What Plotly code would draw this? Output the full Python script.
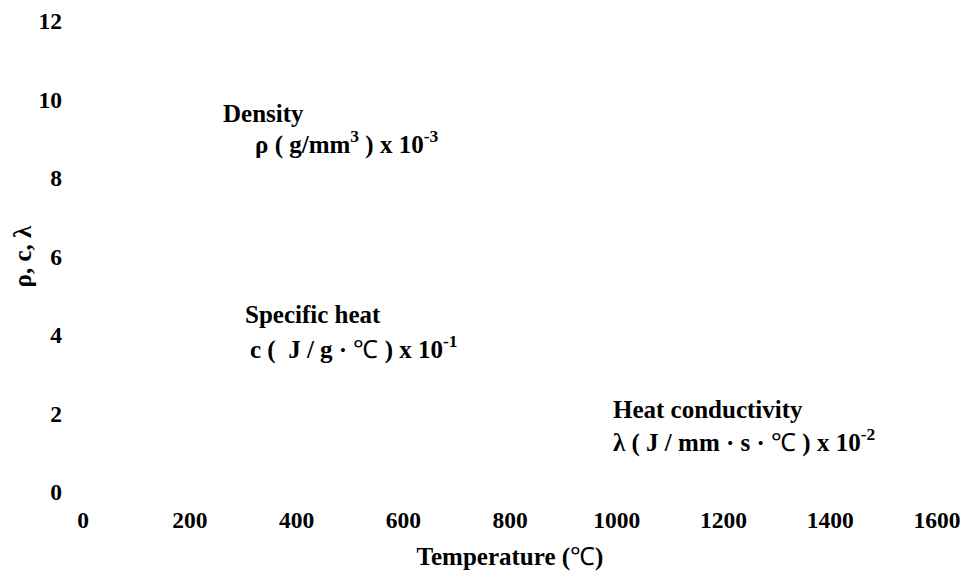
import plotly.graph_objects as go

# Tick values / labels
x_ticks = [0, 200, 400, 600, 800, 1000, 1200, 1400, 1600]
y_ticks = [0, 2, 4, 6, 8, 10, 12]

DEG = '<span style="font-weight:normal">\u2103</span>'

# Series labels (the curves themselves are not visible in the reference)
series_names = ["Density", "Specific heat", "Heat conductivity"]
series_units = [
    "\u03c1 ( g/mm<sup>3</sup> ) x 10<sup>-3</sup>",
    "c (  J / g \u00b7 " + DEG + " ) x 10<sup>-1</sup>",
    "\u03bb ( J / mm \u00b7 s \u00b7 " + DEG + " ) x 10<sup>-2</sup>",
]
x_title = "Temperature (" + DEG + ")"
y_title = "\u03c1, c, \u03bb"

FONT = "Liberation Serif, Times New Roman, serif"

fig = go.Figure()

# annotation anchors (data coordinates)
name_pos = [(258, 9.65), (300, 4.53), (990, 2.11)]
unit_pos = [(318, 8.90), (309, 3.69), (990, 1.32)]

for name, unit, (nx, ny), (ux, uy) in zip(series_names, series_units, name_pos, unit_pos):
    fig.add_annotation(x=nx, y=ny, text=name, showarrow=False, xanchor="left", yanchor="middle",
                       font=dict(family=FONT, size=25, color="black", weight="bold"))
    fig.add_annotation(x=ux, y=uy, text=unit, showarrow=False, xanchor="left", yanchor="middle",
                       font=dict(family=FONT, size=25, color="black", weight="bold"))

# y-axis title placed as rotated text left of the tick labels
fig.add_annotation(xref="paper", yref="paper", x=0, y=0.5, xshift=-61, text=y_title,
                   textangle=-90, showarrow=False, xanchor="center", yanchor="middle",
                   font=dict(family=FONT, size=25, color="black", weight="bold"))

fig.update_layout(
    width=966, height=571,
    margin=dict(l=83, r=29, t=20.5, b=79),
    paper_bgcolor="white", plot_bgcolor="white",
    showlegend=False,
    font=dict(family=FONT, color="black"),
)
fig.update_xaxes(
    range=[0, 1600], tickvals=x_ticks, ticktext=[str(v) for v in x_ticks],
    showgrid=False, zeroline=False, showline=False, ticks="",
    tickfont=dict(family=FONT, size=23.5, color="black", weight="bold"),
    ticklabelstandoff=11, ticklabeloverflow="allow",
    title=dict(text=x_title, standoff=15,
               font=dict(family=FONT, size=25, color="black", weight="bold")),
    automargin=False,
)
fig.update_yaxes(
    range=[0, 12], tickvals=y_ticks, ticktext=[str(v) for v in y_ticks],
    showgrid=False, zeroline=False, showline=False, ticks="",
    tickfont=dict(family=FONT, size=23.5, color="black", weight="bold"),
    ticklabelstandoff=20, ticklabeloverflow="allow",
    automargin=False,
)

# remove the default page margin so the 966x571 figure fills the window exactly
fig.write_html(
    "out.html",
    config={"displayModeBar": False},
    post_script="document.body.style.margin='0';document.body.style.overflow='hidden';",
)
